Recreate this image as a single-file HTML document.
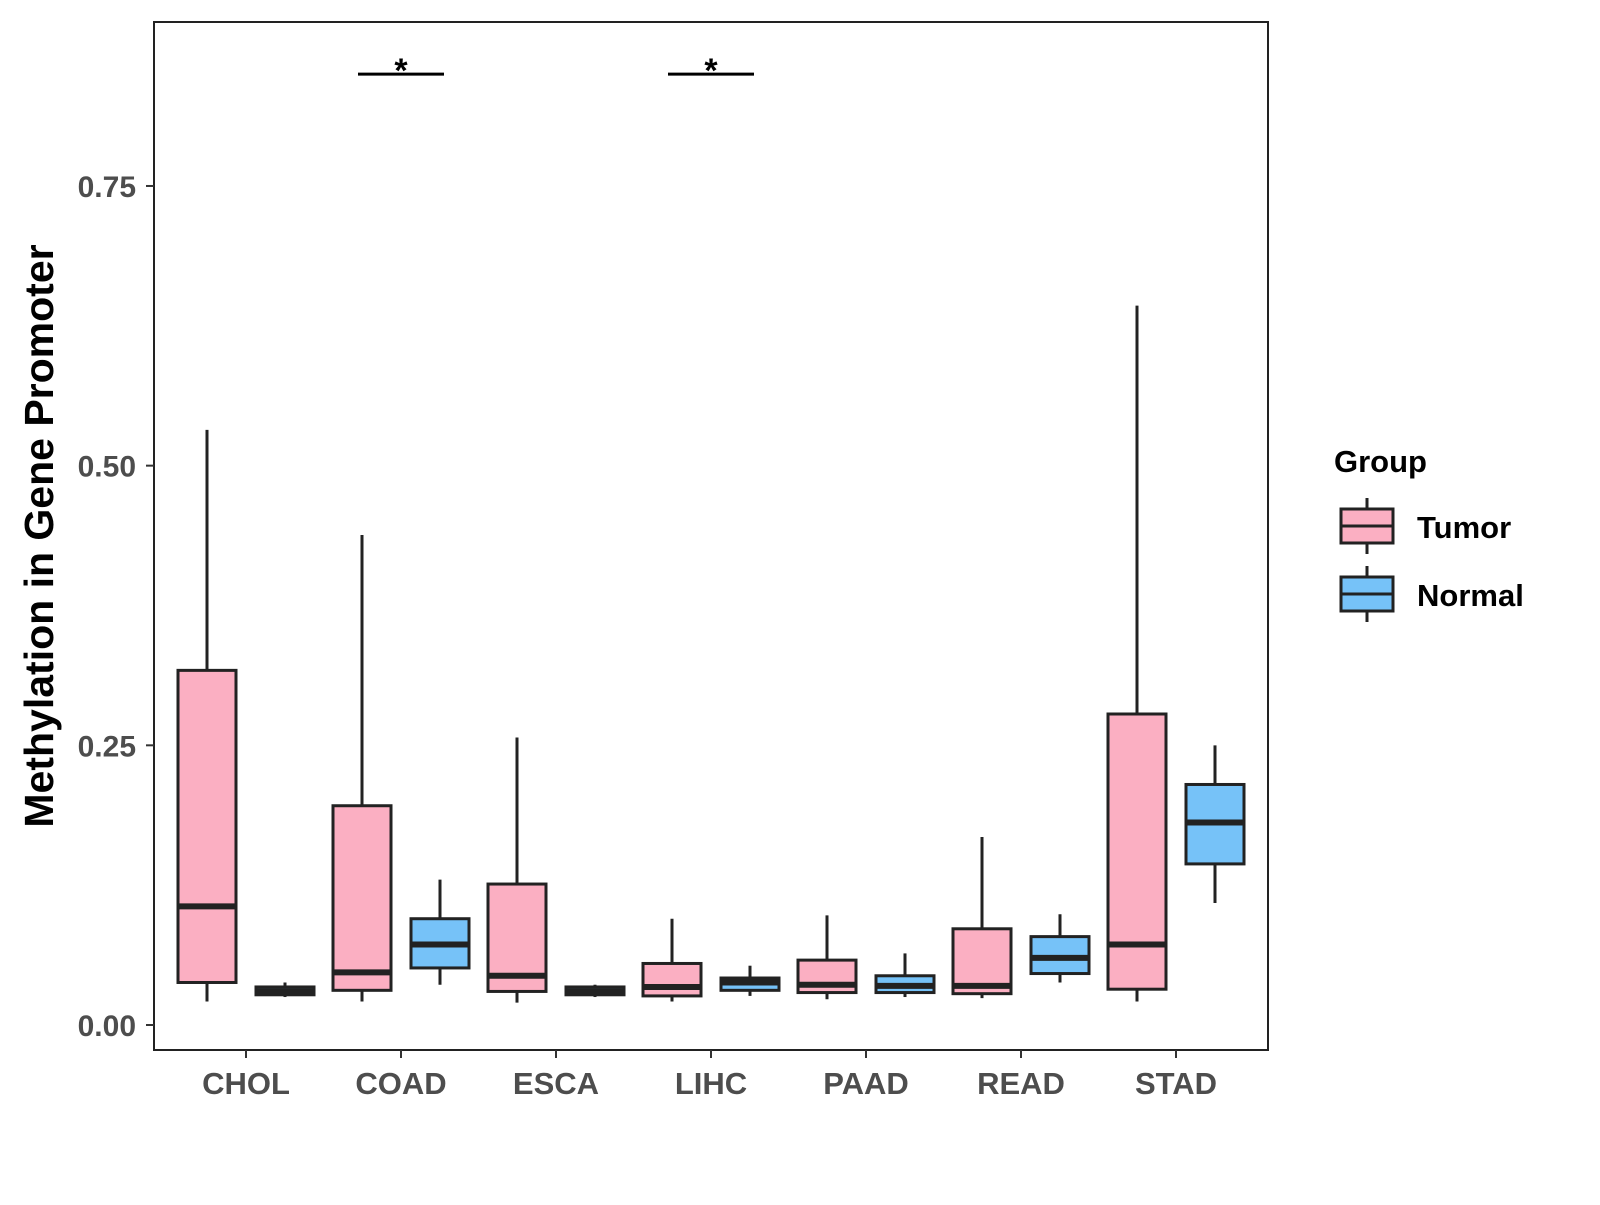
<!DOCTYPE html>
<html><head><meta charset="utf-8"><style>
body{margin:0;background:#fff;}
svg text{font-family:"Liberation Sans",Arial,sans-serif;font-weight:bold;}
</style></head><body>
<svg id="chart" width="1600" height="1200" xmlns="http://www.w3.org/2000/svg">
<rect x="0" y="0" width="1600" height="1200" fill="#fff"/>
<rect x="154" y="22" width="1114" height="1028" fill="none" stroke="#222" stroke-width="2"/>
<g id="marks"></g>
<text x="53" y="536" font-size="41" fill="#000" text-anchor="middle" transform="rotate(-90 53 536)">Methylation in Gene Promoter</text>
<g>
<text x="1334" y="472" font-size="31" fill="#000">Group</text>
<g>
<line x1="1367" y1="498" x2="1367" y2="554" stroke="#222" stroke-width="3"/>
<rect x="1341" y="509" width="52" height="34" fill="#FBAFC2" stroke="#222" stroke-width="3"/>
<line x1="1341" y1="526" x2="1393" y2="526" stroke="#222" stroke-width="3"/>
<text x="1417" y="538" font-size="31" fill="#000">Tumor</text></g>
<g>
<line x1="1367" y1="566" x2="1367" y2="622" stroke="#222" stroke-width="3"/>
<rect x="1341" y="577" width="52" height="34" fill="#76C2F8" stroke="#222" stroke-width="3"/>
<line x1="1341" y1="594" x2="1393" y2="594" stroke="#222" stroke-width="3"/>
<text x="1417" y="606" font-size="31" fill="#000">Normal</text></g>
</g>
</svg>
<script>
const categories=["CHOL","COAD","ESCA","LIHC","PAAD","READ","STAD"];
const tumorLow=[0.021,0.021,0.020,0.021,0.023,0.024,0.021];
const tumorQ1=[0.038,0.031,0.030,0.026,0.029,0.028,0.032];
const tumorMed=[0.106,0.047,0.044,0.034,0.036,0.035,0.072];
const tumorQ3=[0.317,0.196,0.126,0.055,0.058,0.086,0.278];
const tumorHigh=[0.532,0.438,0.257,0.095,0.098,0.168,0.643];
const normalLow=[0.025,0.036,0.025,0.026,0.025,0.038,0.109];
const normalQ1=[0.027,0.051,0.027,0.031,0.029,0.046,0.144];
const normalMed=[0.030,0.072,0.030,0.038,0.035,0.060,0.181];
const normalQ3=[0.034,0.095,0.034,0.042,0.044,0.079,0.215];
const normalHigh=[0.038,0.130,0.036,0.053,0.064,0.099,0.250];
const yTicks=[0,0.25,0.5,0.75];
const yTickLabels=["0.00","0.25","0.50","0.75"];
const sigCats=["COAD","LIHC"];
const sigLevel=0.85;

const NS="http://www.w3.org/2000/svg";
const g=document.getElementById('marks');
const y=v=>1025-v*1118.7;
const xc=i=>246+i*155;
function mk(tag,a){const e=document.createElementNS(NS,tag);for(const k in a)e.setAttribute(k,a[k]);g.appendChild(e);return e;}
yTicks.forEach((t,i)=>{
 const l=mk('line',{x1:146,x2:154,y1:y(t),y2:y(t),stroke:'#333','stroke-width':2});
 
 
 const tx=mk('text',{x:136,y:y(t)+11,'font-size':30,fill:'#4d4d4d','text-anchor':'end'});
 tx.textContent=yTickLabels[i];
 
 
});
function box(cx,lo,q1,md,q3,hi,fill,name){
 const w=mk('line',{x1:cx,x2:cx,y1:y(lo),y2:y(hi),stroke:'#222','stroke-width':3});
 
 
 const r=mk('rect',{x:cx-29,y:y(q3),width:58,height:Math.max(y(q1)-y(q3),1),fill:fill,stroke:'#222','stroke-width':3});
 
 
 const m=mk('line',{x1:cx-29,x2:cx+29,y1:y(md),y2:y(md),stroke:'#222','stroke-width':6});
 
 
}
categories.forEach((c,i)=>{
 const cx=xc(i);
 box(cx-39,tumorLow[i],tumorQ1[i],tumorMed[i],tumorQ3[i],tumorHigh[i],'#FBAFC2','tumor-'+c.toLowerCase());
 box(cx+39,normalLow[i],normalQ1[i],normalMed[i],normalQ3[i],normalHigh[i],'#76C2F8','normal-'+c.toLowerCase());
 const t=mk('line',{x1:cx,x2:cx,y1:1050,y2:1058,stroke:'#333','stroke-width':2});
 
 
 const tx=mk('text',{x:cx,y:1094,'font-size':31,fill:'#4d4d4d','text-anchor':'middle'});
 tx.textContent=c;
 
 
});
sigCats.forEach(c=>{
 const cx=xc(categories.indexOf(c));
 const l=mk('line',{x1:cx-43,x2:cx+43,y1:y(sigLevel),y2:y(sigLevel),stroke:'#000','stroke-width':3});
 
 
 const s=mk('text',{x:cx,y:y(sigLevel)+8,'font-size':34,fill:'#000','text-anchor':'middle'});
 s.textContent='*';
 
 
});
</script>
</body></html>
